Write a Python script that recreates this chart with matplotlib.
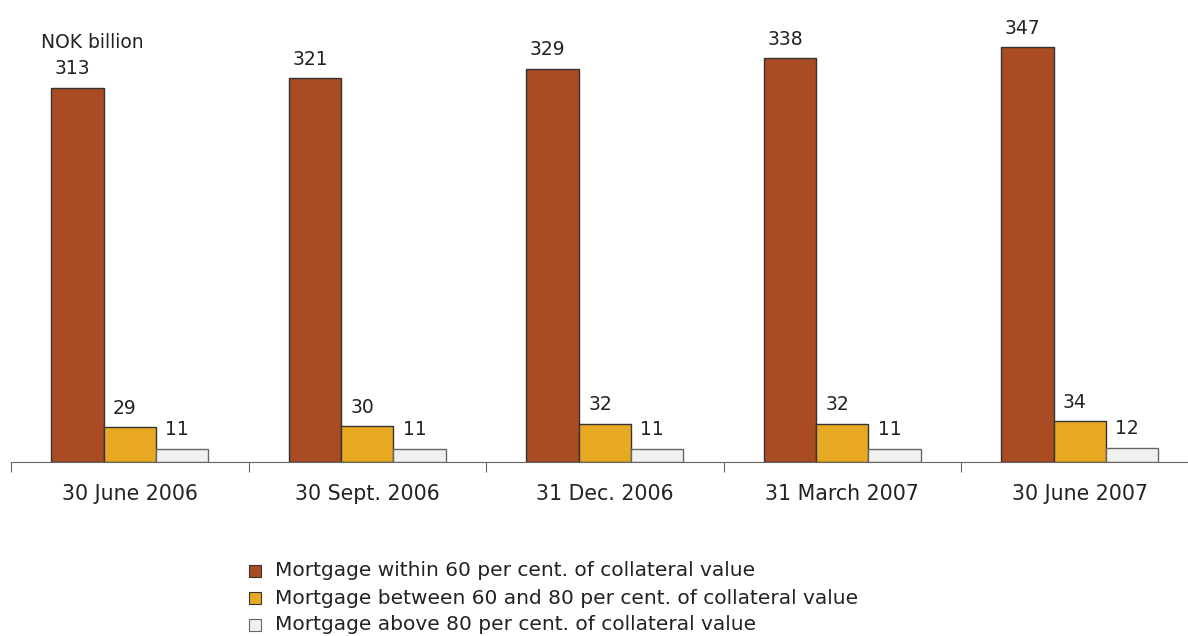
import numpy as np
from matplotlib import pyplot as plt
from matplotlib.patches import Rectangle

# data
dates = ['30 June 2006', '30 Sept. 2006', '31 Dec. 2006', '31 March 2007', '30 June 2007']
within_60 = [313, 321, 329, 338, 347]
between_60_80 = [29, 30, 32, 32, 34]
above_80 = [11, 11, 11, 11, 12]

names = ['Mortgage within 60 per cent. of collateral value',
         'Mortgage between 60 and 80 per cent. of collateral value',
         'Mortgage above 80 per cent. of collateral value']
colours = ['#A94B23', '#E8A922', '#EFF1EF']
edges = ['#333333', '#333333', '#666666']

fig = plt.figure(figsize=(11.88, 6.36), dpi=100)
W, H = 1188, 636
ax = fig.add_axes([11/W, (H-462)/H, 1187.5/W, 462/H])

x = np.arange(len(dates))
bw = 0.22
series = [within_60, between_60_80, above_80]
for i, vals in enumerate(series):
    pos = x + (i-1)*bw
    ax.bar(pos, vals, bw, color=colours[i], edgecolor=edges[i], linewidth=1, label=names[i], zorder=2)
    for p, v in zip(pos, vals):
        ax.text(p - 0.02, v + 8, str(v), ha='center', va='bottom', fontsize=13.5, color='#222222')

ax.set_xlim(-0.5, len(dates)-0.5)
ax.set_ylim(0, 386.6)
for s in ['top', 'right', 'left']:
    ax.spines[s].set_visible(False)
ax.spines['bottom'].set_color('#666666')
ax.set_yticks([])
ax.set_xticks(np.arange(-0.5, len(dates), 1.0))
ax.set_xticklabels([])
ax.set_xticks(x, minor=True)
ax.set_xticklabels(dates, minor=True, fontsize=14.8, color='#222222')
ax.tick_params(axis='x', which='major', length=7, color='#666666')
ax.tick_params(axis='x', which='minor', length=0, pad=16)

fig.text(41/W, 1-42/H, 'NOK billion', ha='left', va='center', fontsize=13.5, color='#222222')

# legend
for i in range(3):
    yy = 1 - (571 + 27*i)/H
    fig.patches.append(Rectangle((249/W, yy - 6/H), 12/W, 12/H, transform=fig.transFigure,
                                 facecolor=colours[i], edgecolor=edges[i], linewidth=0.8))
    fig.text(275/W, yy, names[i], ha='left', va='center', fontsize=14.5, color='#222222')

plt.savefig('out.png', dpi=100)
